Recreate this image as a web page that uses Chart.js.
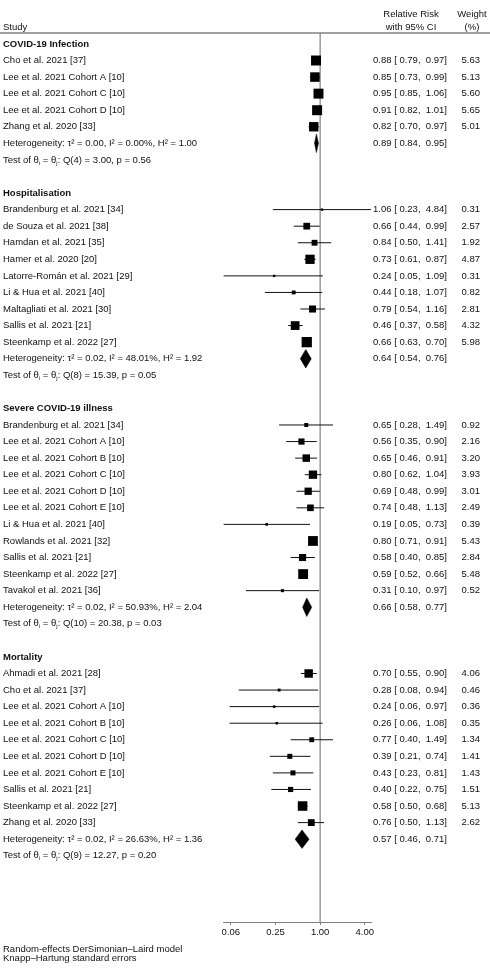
<!doctype html>
<html lang="en">
  <head>
    <meta charset="UTF-8" />
    <title>Relative risk forest plot</title>
    <script src="https://cdn.jsdelivr.net/npm/chart.js"></script>
    <style>
      html, body { margin: 0; padding: 0; background: #fff; }
      #wrap { position: relative; width: 490px; height: 974px; }
    </style>
  </head>
  <body>
    <div id="wrap"><canvas id="forestChart"></canvas></div>

    <script>
      // subgroups
      const sectionNames = ["COVID-19 Infection", "Hospitalisation", "Severe COVID-19 illness", "Mortality"];

      // COVID-19 infection
      const infectionStudies = ["Cho et al. 2021 [37]", "Lee et al. 2021 Cohort A [10]", "Lee et al. 2021 Cohort C [10]", "Lee et al. 2021 Cohort D [10]", "Zhang et al. 2020 [33]"];
      const infectionRR = [0.88, 0.85, 0.95, 0.91, 0.82];
      const infectionLower = [0.79, 0.73, 0.85, 0.82, 0.70];
      const infectionUpper = [0.97, 0.99, 1.06, 1.01, 0.97];
      const infectionWeight = [5.63, 5.13, 5.60, 5.65, 5.01];

      // hospitalisation
      const hospStudies = ["Brandenburg et al. 2021 [34]", "de Souza et al. 2021 [38]", "Hamdan et al. 2021 [35]", "Hamer et al. 2020 [20]", "Latorre-Román et al. 2021 [29]", "Li & Hua et al. 2021 [40]", "Maltagliati et al. 2021 [30]", "Sallis et al. 2021 [21]", "Steenkamp et al. 2022 [27]"];
      const hospRR = [1.06, 0.66, 0.84, 0.73, 0.24, 0.44, 0.79, 0.46, 0.66];
      const hospLower = [0.23, 0.44, 0.50, 0.61, 0.05, 0.18, 0.54, 0.37, 0.63];
      const hospUpper = [4.84, 0.99, 1.41, 0.87, 1.09, 1.07, 1.16, 0.58, 0.70];
      const hospWeight = [0.31, 2.57, 1.92, 4.87, 0.31, 0.82, 2.81, 4.32, 5.98];

      // severe illness
      const severeStudies = ["Brandenburg et al. 2021 [34]", "Lee et al. 2021 Cohort A [10]", "Lee et al. 2021 Cohort B [10]", "Lee et al. 2021 Cohort C [10]", "Lee et al. 2021 Cohort D [10]", "Lee et al. 2021 Cohort E [10]", "Li & Hua et al. 2021 [40]", "Rowlands et al. 2021 [32]", "Sallis et al. 2021 [21]", "Steenkamp et al. 2022 [27]", "Tavakol et al. 2021 [36]"];
      const severeRR = [0.65, 0.56, 0.65, 0.80, 0.69, 0.74, 0.19, 0.80, 0.58, 0.59, 0.31];
      const severeLower = [0.28, 0.35, 0.46, 0.62, 0.48, 0.48, 0.05, 0.71, 0.40, 0.52, 0.10];
      const severeUpper = [1.49, 0.90, 0.91, 1.04, 0.99, 1.13, 0.73, 0.91, 0.85, 0.66, 0.97];
      const severeWeight = [0.92, 2.16, 3.20, 3.93, 3.01, 2.49, 0.39, 5.43, 2.84, 5.48, 0.52];

      // mortality
      const mortStudies = ["Ahmadi et al. 2021 [28]", "Cho et al. 2021 [37]", "Lee et al. 2021 Cohort A [10]", "Lee et al. 2021 Cohort B [10]", "Lee et al. 2021 Cohort C [10]", "Lee et al. 2021 Cohort D [10]", "Lee et al. 2021 Cohort E [10]", "Sallis et al. 2021 [21]", "Steenkamp et al. 2022 [27]", "Zhang et al. 2020 [33]"];
      const mortRR = [0.70, 0.28, 0.24, 0.26, 0.77, 0.39, 0.43, 0.40, 0.58, 0.76];
      const mortLower = [0.55, 0.08, 0.06, 0.06, 0.40, 0.21, 0.23, 0.22, 0.50, 0.50];
      const mortUpper = [0.90, 0.94, 0.97, 1.08, 1.49, 0.74, 0.81, 0.75, 0.68, 1.13];
      const mortWeight = [4.06, 0.46, 0.36, 0.35, 1.34, 1.41, 1.43, 1.51, 5.13, 2.62];

      // pooled results per subgroup
      const pooledRR = [0.89, 0.64, 0.66, 0.57];
      const pooledLower = [0.84, 0.54, 0.58, 0.46];
      const pooledUpper = [0.95, 0.76, 0.77, 0.71];
      const tau2 = [0.00, 0.02, 0.02, 0.02];
      const iSquared = [0.00, 48.01, 50.93, 26.63];
      const hSquared = [1.00, 1.92, 2.04, 1.36];
      const qDf = [4, 8, 10, 9];
      const qStat = [3.00, 15.39, 20.38, 12.27];
      const pValue = [0.56, 0.05, 0.03, 0.20];

      // x axis
      const xTickValues = [0.0625, 0.25, 1, 4];
      const xTickLabels = ["0.06", "0.25", "1.00", "4.00"];
      const footnotes = ["Random-effects DerSimonian\u2013Laird model", "Knapp\u2013Hartung standard errors"];

      const sections = [
        { studies: infectionStudies, rr: infectionRR, lo: infectionLower, hi: infectionUpper, w: infectionWeight },
        { studies: hospStudies, rr: hospRR, lo: hospLower, hi: hospUpper, w: hospWeight },
        { studies: severeStudies, rr: severeRR, lo: severeLower, hi: severeUpper, w: severeWeight },
        { studies: mortStudies, rr: mortRR, lo: mortLower, hi: mortUpper, w: mortWeight },
      ];

      const FONT = "'Liberation Sans', Arial, Helvetica, sans-serif";
      const TEXT_SIZE = 9.5;
      const INK = "#111";
      const GREY = "#808080";
      const Y_TOP = -0.66;
      const Y_AXIS = 53;

      // lay out the rows
      let rows = [];
      let r = 0;
      sections.forEach((s, k) => {
        rows.push({ kind: "header", y: r++, k: k });
        s.studies.forEach((name, i) => {
          rows.push({ kind: "study", y: r++, k: k, i: i });
        });
        rows.push({ kind: "het", y: r++, k: k });
        rows.push({ kind: "test", y: r++, k: k });
        r++;
      });

      function ciText(est, lo, hi) {
        return est.toFixed(2) + " [ " + lo.toFixed(2) + ",  " + hi.toFixed(2) + "]";
      }

      let datasets = [];

      // reference line at RR = 1 (drawn underneath everything)
      datasets.push({
        data: [{ x: 1, y: Y_TOP }, { x: 1, y: Y_AXIS }],
        showLine: true,
        borderColor: GREY,
        borderWidth: 1.2,
        pointRadius: 0,
        clip: false,
        order: 3,
      });

      // confidence intervals
      rows.filter((row) => row.kind === "study").forEach((row) => {
        let s = sections[row.k];
        datasets.push({
          data: [{ x: s.lo[row.i], y: row.y }, { x: s.hi[row.i], y: row.y }],
          showLine: true,
          borderColor: INK,
          borderWidth: 1,
          pointRadius: 0,
          clip: false,
          order: 2,
        });
      });

      // weighted squares
      let squarePts = [];
      let squareRadius = [];
      rows.filter((row) => row.kind === "study").forEach((row) => {
        let s = sections[row.k];
        squarePts.push({ x: s.rr[row.i], y: row.y });
        squareRadius.push(2.97 * Math.sqrt(s.w[row.i]));
      });
      datasets.push({
        data: squarePts,
        pointStyle: "rect",
        pointRadius: squareRadius,
        backgroundColor: "#000",
        borderWidth: 0,
        clip: false,
        order: 1,
      });

      // pooled diamonds
      rows.filter((row) => row.kind === "het").forEach((row) => {
        let k = row.k;
        datasets.push({
          data: [
            { x: pooledLower[k], y: row.y },
            { x: pooledRR[k], y: row.y - 0.56 },
            { x: pooledUpper[k], y: row.y },
            { x: pooledRR[k], y: row.y + 0.56 },
            { x: pooledLower[k], y: row.y },
          ],
          showLine: true,
          fill: "shape",
          backgroundColor: "#000",
          borderColor: "#000",
          borderWidth: 0.5,
          pointRadius: 0,
          clip: false,
          order: 1,
        });
      });

      function drawParts(ctx, parts, x, y) {
        parts.forEach((p) => {
          if (p.sub) {
            ctx.font = (TEXT_SIZE * 0.62) + "px " + FONT;
            ctx.fillText(p.t, x, y + 3);
          } else {
            ctx.font = TEXT_SIZE + "px " + FONT;
            ctx.fillText(p.t, x, y);
          }
          x += ctx.measureText(p.t).width;
        });
      }

      const tablePlugin = {
        id: "forestTable",
        afterDraw(chart) {
          const ctx = chart.ctx;
          const ys = chart.scales.y;
          const area = chart.chartArea;
          const xEst = 373;
          const xWeight = 480;
          ctx.save();
          ctx.fillStyle = INK;
          ctx.textBaseline = "middle";
          ctx.font = TEXT_SIZE + "px " + FONT;

          // column heads
          ctx.textAlign = "left";
          ctx.fillText("Study", 3, area.top - 5.5);
          ctx.textAlign = "center";
          ctx.fillText("Relative Risk", 411, area.top - 19);
          ctx.fillText("with 95% CI", 411, area.top - 5.5);
          ctx.fillText("Weight", 472, area.top - 19);
          ctx.fillText("(%)", 472, area.top - 5.5);

          ctx.strokeStyle = GREY;
          ctx.lineWidth = 1.5;
          ctx.beginPath();
          ctx.moveTo(0, area.top);
          ctx.lineTo(chart.width, area.top);
          ctx.stroke();

          rows.forEach((row) => {
            const y = ys.getPixelForValue(row.y);
            const k = row.k;
            ctx.textAlign = "left";
            ctx.font = TEXT_SIZE + "px " + FONT;
            if (row.kind === "header") {
              ctx.font = "bold " + TEXT_SIZE + "px " + FONT;
              ctx.fillText(sectionNames[k], 3, y);
            } else if (row.kind === "study") {
              const s = sections[k];
              ctx.fillText(s.studies[row.i], 3, y);
              ctx.fillText(ciText(s.rr[row.i], s.lo[row.i], s.hi[row.i]), xEst, y);
              ctx.textAlign = "right";
              ctx.fillText(s.w[row.i].toFixed(2), xWeight, y);
            } else if (row.kind === "het") {
              ctx.fillText("Heterogeneity: \u03C4\u00B2 = " + tau2[k].toFixed(2) + ", I\u00B2 = " + iSquared[k].toFixed(2) + "%, H\u00B2 = " + hSquared[k].toFixed(2), 3, y);
              ctx.fillText(ciText(pooledRR[k], pooledLower[k], pooledUpper[k]), xEst, y);
            } else if (row.kind === "test") {
              drawParts(ctx, [
                { t: "Test of \u03B8" },
                { t: "i", sub: true },
                { t: " = \u03B8" },
                { t: "j", sub: true },
                { t: ": Q(" + qDf[k] + ") = " + qStat[k].toFixed(2) + ", p = " + pValue[k].toFixed(2) },
              ], 3, y);
            }
          });

          ctx.textAlign = "left";
          ctx.font = TEXT_SIZE + "px " + FONT;
          footnotes.forEach((t, i) => {
            ctx.fillText(t, 3, area.bottom + 27 + i * 9.5);
          });
          ctx.restore();
        },
      };

      new Chart(document.getElementById("forestChart"), {
        type: "scatter",
        data: { datasets: datasets },
        options: {
          responsive: true,
          maintainAspectRatio: false,
          animation: false,
          events: [],
          layout: { padding: { left: 223, right: 119, top: 33, bottom: 0 } },
          plugins: { legend: { display: false }, tooltip: { enabled: false } },
          scales: {
            x: {
              type: "logarithmic",
              position: "bottom",
              min: 0.049,
              max: 4.85,
              afterBuildTicks: (scale) => {
                scale.ticks = xTickValues.map((v) => ({ value: v }));
              },
              afterFit: (scale) => {
                scale.height = 52;
              },
              ticks: {
                autoSkip: false,
                maxRotation: 0,
                padding: 2,
                color: INK,
                font: { family: FONT, size: TEXT_SIZE },
                callback: (v) => {
                  let idx = xTickValues.findIndex((t) => Math.abs(t - v) < 1e-6);
                  return idx >= 0 ? xTickLabels[idx] : "";
                },
              },
              grid: { drawOnChartArea: false, drawTicks: true, tickLength: 3, color: GREY },
              border: { display: true, color: GREY, width: 1 },
            },
            y: {
              type: "linear",
              display: false,
              reverse: true,
              min: Y_TOP,
              max: Y_AXIS,
            },
          },
        },
        plugins: [tablePlugin],
      });
    </script>
  </body>
</html>
